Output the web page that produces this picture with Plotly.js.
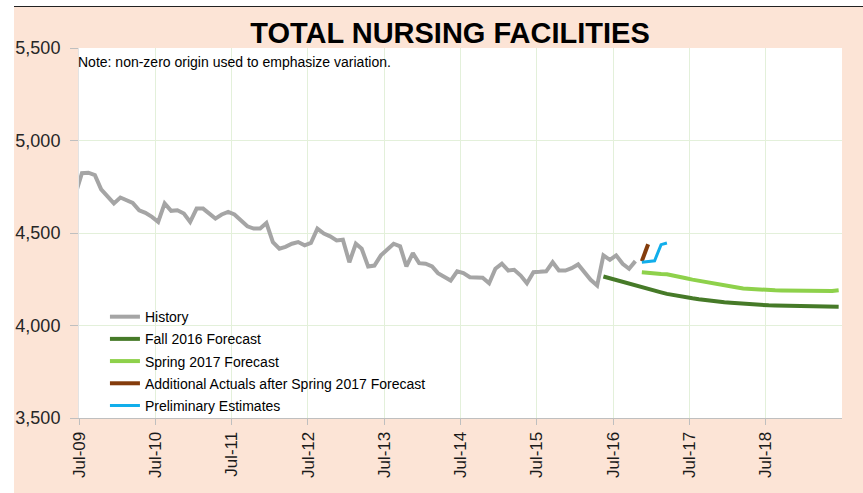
<!DOCTYPE html>
<html>
<head>
<meta charset="utf-8">
<script src="https://cdn.plot.ly/plotly-3.0.1.min.js"></script>
<style>
  html, body { margin: 0; padding: 0; background: #ffffff; }
  #frame { position: absolute; left: 14px; top: 6px; width: 849px; height: 487px; border-top: 1px solid #222; background: #FCE4D6; }
  #chart { width: 849px; height: 486px; }
</style>
</head>
<body>
<div id="frame"><div id="chart"></div></div>
<script>
// ---- Data (monthly values) ----
const historyStart = [2009, 6];   // Jun-09
const historyValues = [
  4713, 4823, 4826, 4813, 4736, 4700, 4660, 4692, 4678, 4663, 4623, 4609, 4587,
  4560, 4660, 4620, 4623, 4605, 4560, 4632, 4632, 4605, 4578, 4600, 4614,
  4600, 4569, 4536, 4524, 4524, 4554, 4451, 4415, 4425, 4442, 4451, 4433,
  4446, 4524, 4497, 4482, 4460, 4464, 4342, 4442, 4415, 4319, 4324, 4379,
  4410, 4442, 4428, 4319, 4391, 4337, 4334, 4319, 4283, 4265, 4243, 4293,
  4283, 4261, 4261, 4258, 4228, 4307, 4334, 4297, 4301, 4270, 4228, 4288,
  4290, 4293, 4342, 4297, 4297, 4310, 4330, 4283, 4247, 4216, 4379, 4355,
  4379, 4334, 4307, 4348
];

const fall2016Start = [2016, 5];  // May-16
const fall2016Values = [
  4265, 4255, 4245, 4235, 4224, 4214, 4204, 4196, 4187, 4179, 4171, 4164,
  4157, 4152, 4147, 4142, 4137, 4133, 4129, 4126, 4123, 4120, 4117, 4115,
  4113, 4111, 4109, 4108, 4107, 4106, 4105, 4104, 4104, 4103, 4103, 4102,
  4102, 4102
];

const spring2017Start = [2016, 11]; // Nov-16
const spring2017Values = [
  4288, 4283, 4280, 4278, 4277, 4268, 4262, 4255, 4248, 4241, 4235, 4229,
  4222, 4216, 4210, 4205, 4200, 4197, 4195, 4193, 4191, 4190, 4189, 4188,
  4187, 4186, 4186, 4185, 4185, 4184, 4186, 4190
];

const actualsStart = [2016, 11];
const actualsValues = [4348, 4439];

const prelimStart = [2016, 11];
const prelimValues = [4342, 4346, 4350, 4437, 4446];

const seriesNames = [
  'History',
  'Fall 2016 Forecast',
  'Spring 2017 Forecast',
  'Additional Actuals after Spring 2017 Forecast',
  'Preliminary Estimates'
];

const xTickLabels = ['Jul-09','Jul-10','Jul-11','Jul-12','Jul-13','Jul-14','Jul-15','Jul-16','Jul-17','Jul-18'];
const yTickValues = [3500, 4000, 4500, 5000, 5500];

// ---- helpers ----
function monthDates(start, n) {
  const out = [];
  for (let i = 0; i < n; i++) {
    const t = (start[0] * 12 + (start[1] - 1)) + i;
    const y = Math.floor(t / 12), m = (t % 12) + 1;
    out.push(y + '-' + String(m).padStart(2, '0') + '-15');
  }
  return out;
}
const tickVals = xTickLabels.map(s => '20' + s.slice(4) + '-07-01');

const font = 'Arial, "Liberation Sans", sans-serif';

function tr(start, vals, name, color, width, idx) {
  return {
    type: 'scatter', mode: 'lines',
    x: monthDates(start, vals.length), y: vals,
    name: name, legendgroup: 'g' + idx,
    line: { color: color, width: width },
    hoverinfo: 'skip'
  };
}

const traces = [
  tr(historyStart, historyValues, seriesNames[0], '#A5A5A5', 4, 0),
  tr(fall2016Start, fall2016Values, seriesNames[1], '#467A28', 4, 1),
  tr(spring2017Start, spring2017Values, seriesNames[2], '#8ED14B', 4, 2),
  tr(actualsStart, actualsValues, seriesNames[3], '#843C0C', 4, 3),
  tr(prelimStart, prelimValues, seriesNames[4], '#11AEEB', 3, 4)
];

const layout = {
  width: 849, height: 486,
  margin: { l: 65, r: 21, t: 41, b: 75, pad: 0 },
  paper_bgcolor: '#FCE4D6',
  plot_bgcolor: '#FFFFFF',
  font: { family: font, color: '#000' },
  title: {
    text: '<b>TOTAL NURSING FACILITIES</b>',
    font: { family: font, size: 29, color: '#000' },
    xref: 'container', x: 436 / 849, xanchor: 'center',
    yref: 'container', y: 0.946, yanchor: 'middle'
  },
  xaxis: {
    type: 'date',
    range: ['2009-07-01', '2019-07-01'],
    tickvals: tickVals, ticktext: xTickLabels,
    tickangle: -90,
    tickfont: { family: font, size: 17, color: '#1a1a1a' },
    showgrid: true, gridcolor: '#E3F0DA', gridwidth: 1,
    showline: true, linecolor: '#BFBFBF', linewidth: 1,
    ticks: 'outside', ticklen: 6, tickcolor: '#BFBFBF',
    zeroline: false, fixedrange: true
  },
  yaxis: {
    range: [3500, 5500],
    tickvals: yTickValues,
    tickformat: ',d',
    tickfont: { family: font, size: 18, color: '#262626' },
    showgrid: true, gridcolor: '#E3F0DA', gridwidth: 1,
    showline: true, linecolor: '#E3E3E3', linewidth: 1,
    ticks: 'outside', ticklen: 8, tickcolor: '#BFBFBF',
    ticklabelstandoff: 6,
    zeroline: false, fixedrange: true
  },
  shapes: [{
    type: 'rect', xref: 'paper', yref: 'paper', layer: 'between',
    x0: 0.0236, x1: 0.497, y0: 0, y1: 0.3,
    fillcolor: '#FFFFFF', line: { width: 0 }
  }],
  annotations: [{
    text: 'Note: non-zero origin used to emphasize variation.',
    xref: 'paper', yref: 'paper', x: 0, y: 0.963, xshift: -3,
    xanchor: 'left', yanchor: 'middle', showarrow: false,
    font: { family: font, size: 14, color: '#000' }
  }],
  showlegend: true,
  legend: {
    x: 0.034, y: 0.316, xanchor: 'left', yanchor: 'top',
    bgcolor: 'rgba(0,0,0,0)', borderwidth: 0,
    font: { family: font, size: 14, color: '#000' },
    tracegroupgap: 1
  }
};

Plotly.newPlot('chart', traces, layout, { displayModeBar: false, staticPlot: true });
</script>
</body>
</html>
